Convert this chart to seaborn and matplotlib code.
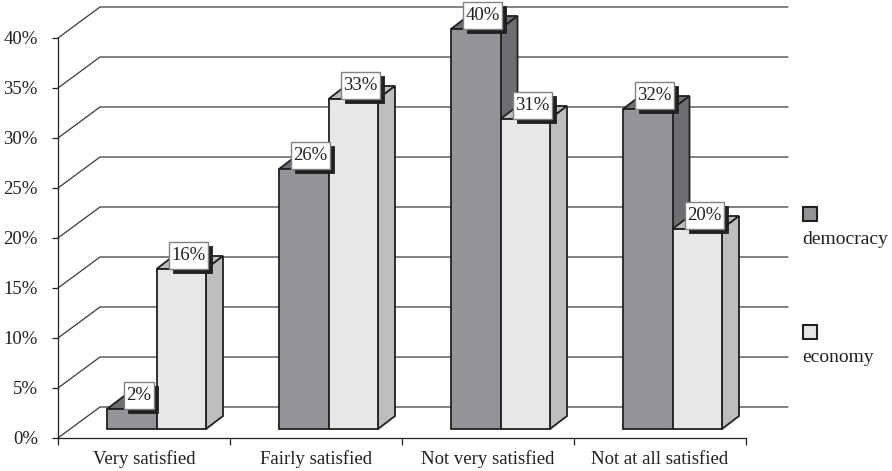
import matplotlib
matplotlib.use("Agg")
import matplotlib.pyplot as plt
from matplotlib.patches import Polygon, Rectangle
from matplotlib.transforms import IdentityTransform
import pandas as pd
import seaborn as sns

categories = ["Very satisfied", "Fairly satisfied", "Not very satisfied", "Not at all satisfied"]
democracy = [2, 26, 40, 32]
economy = [16, 33, 31, 20]
y_ticks = [0, 5, 10, 15, 20, 25, 30, 35, 40]

FRONT = {"democracy": "#929497", "economy": "#e6e7e8"}
SHADE = {"democracy": "#6d6e71", "economy": "#bcbec0"}
INK = "#231f20"
FONT = "Liberation Serif"

W, H = 892, 471
PX_X = 172.0  # pixels per category
PX_Y = 10.0   # pixels per percentage point

sns.set_theme(style="white")
plt.rcParams["font.family"] = [FONT, "DejaVu Serif"]

frame = pd.DataFrame({
    "category": categories * 2,
    "series": ["democracy"] * 4 + ["economy"] * 4,
    "value": democracy + economy,
})

fig = plt.figure(figsize=(W / 100, H / 100), dpi=100, facecolor="white")
ax = fig.add_axes([58 / W, 1 - 438 / H, 688 / W, 400 / H])

sns.barplot(data=frame, x="category", y="value", hue="series", order=categories,
            hue_order=["democracy", "economy"], palette=FRONT, width=99 / PX_X,
            gap=0, dodge=True, legend=False, errorbar=None, ax=ax,
            edgecolor=INK, linewidth=1.3, saturation=1)
ax.set_xlim(-0.5, 3.5)
ax.set_ylim(0, 40)

# Receding back wall: diagonals from the front axis, then horizontal rules
wall_x, wall_y = 42 / PX_X, 3.1
for v in y_ticks:
    ax.plot([-0.5, -0.5 + wall_x, 3.5 + wall_x], [v, v + wall_y, v + wall_y],
            color="#3a3a3a", lw=0.9, clip_on=False, zorder=1, solid_joinstyle="miter")

# Bars stand part-way into the floor, with top and side faces for depth
shift_x, lift = 12.5 / PX_X, 0.9
depth_x, depth_y = 17 / PX_X, 1.3
tags = []
for s, (series, container) in enumerate(zip(["democracy", "economy"], ax.containers)):
    for bar in container:
        bar.set_x(bar.get_x() + shift_x)
        bar.set_y(lift)
        bar.set_zorder(3 + s * 3 + 0.5)
        bar.set_clip_on(False)
        x0, x1 = bar.get_x(), bar.get_x() + bar.get_width()
        y0, y1 = lift, lift + bar.get_height()
        top = Polygon([(x0, y1), (x1, y1), (x1 + depth_x, y1 + depth_y), (x0 + depth_x, y1 + depth_y)],
                      facecolor=SHADE[series], edgecolor=INK, lw=1.3, zorder=3 + s * 3,
                      clip_on=False, joinstyle="miter")
        side = Polygon([(x1, y0), (x1 + depth_x, y0 + depth_y), (x1 + depth_x, y1 + depth_y), (x1, y1)],
                       facecolor=SHADE[series], edgecolor=INK, lw=1.3, zorder=3 + s * 3,
                       clip_on=False, joinstyle="miter")
        ax.add_patch(top)
        ax.add_patch(side)

        label = ax.annotate(f"{bar.get_height():.0f}%", ((x0 + x1) / 2, y1), xytext=(7, 13.5),
                            xycoords="data", textcoords="offset pixels", ha="center", va="center",
                            fontsize=13.5, color=INK, annotation_clip=False, zorder=12)
        tags.append(label)

for name in ["top", "right"]:
    ax.spines[name].set_visible(False)
for name in ["left", "bottom"]:
    ax.spines[name].set_color(INK)
    ax.spines[name].set_linewidth(0.9)
    ax.spines[name].set_zorder(2)

ax.set_xlabel("")
ax.set_ylabel("")
ax.set_yticks(y_ticks)
ax.set_yticklabels([f"{v}%" for v in y_ticks])
ax.set_xticks(range(4))
ax.set_xticklabels(categories)
ax.set_xticks([-0.5, 0.5, 1.5, 2.5, 3.5], minor=True)
ax.tick_params(axis="x", which="major", length=0, pad=9, labelsize=13.5, labelcolor=INK)
ax.tick_params(axis="x", which="minor", length=5, width=0.9, color=INK, bottom=True)
ax.tick_params(axis="y", length=4.5, width=0.9, color=INK, left=True, pad=10,
               labelsize=13.5, labelcolor=INK)

# Value tags: white card sized to its text, with a hard drop shadow
fig.canvas.draw()
renderer = fig.canvas.get_renderer()
for label in tags:
    ext = label.get_window_extent(renderer)
    w = ext.width + 5
    h = 27
    cx = (ext.x0 + ext.x1) / 2
    cy = (ext.y0 + ext.y1) / 2
    ax.add_artist(Rectangle((cx - w / 2 + 4, cy - h / 2 - 4), w, h, transform=IdentityTransform(),
                            facecolor=INK, edgecolor=INK, lw=0.6, zorder=10, clip_on=False))
    ax.add_artist(Rectangle((cx - w / 2, cy - h / 2), w, h, transform=IdentityTransform(),
                            facecolor="white", edgecolor="#808285", lw=1.0, zorder=11, clip_on=False))

# Key at the right: swatch above its label
for name, swatch_top, label_y in [("democracy", 207, 239), ("economy", 325, 357)]:
    fig.add_artist(Rectangle((803 / W, 1 - (swatch_top + 14) / H), 14 / W, 14 / H,
                             transform=fig.transFigure, facecolor=FRONT[name],
                             edgecolor=INK, lw=1.5))
    fig.text(802 / W, 1 - label_y / H, name, ha="left", va="center", fontsize=14, color=INK)

fig.savefig("out.png", dpi=100, facecolor="white")
